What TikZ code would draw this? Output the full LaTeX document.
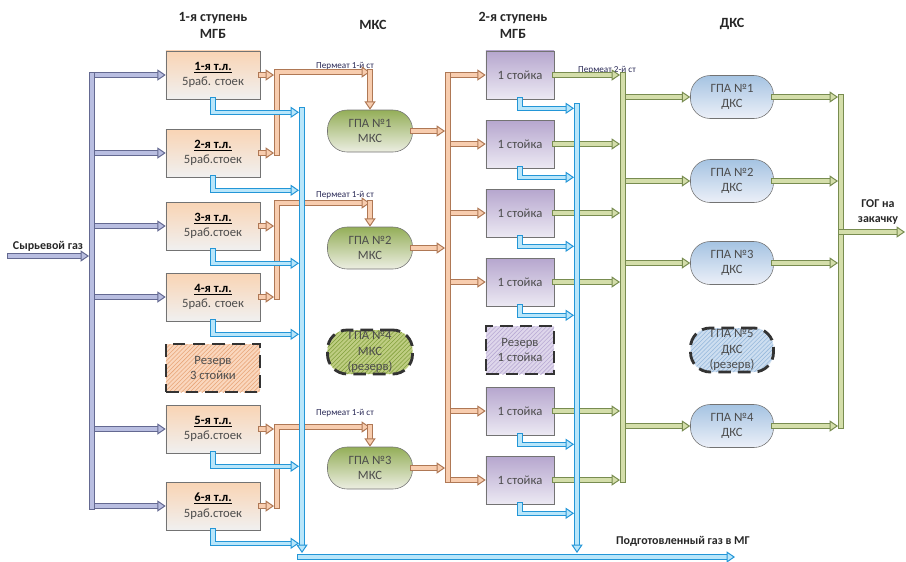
\documentclass[tikz,border=0pt]{standalone}
\usepackage{fontspec}
\setmainfont{Carlito}
\usepackage{xcolor}
\usepackage{tikz}
\usetikzlibrary{arrows.meta, calc, patterns}
\definecolor{rawout}{RGB}{100,105,145}
\definecolor{rawin}{RGB}{185,190,225}
\definecolor{prmout}{RGB}{175,120,85}
\definecolor{prmin}{RGB}{248,205,175}
\definecolor{retout}{RGB}{35,150,215}
\definecolor{retin}{RGB}{185,230,250}
\definecolor{grnout}{RGB}{120,140,80}
\definecolor{grnin}{RGB}{212,222,170}
\definecolor{lbltxt}{RGB}{40,40,85}
\tikzstyle{pipe} = [line width=0.7pt, double distance=2.4pt, line join=miter, line cap=rect]
\tikzstyle{raw} = [pipe, draw=rawout, double=rawin]
\tikzstyle{prm} = [pipe, draw=prmout, double=prmin]
\tikzstyle{ret} = [pipe, draw=retout, double=retin]
\tikzstyle{grn} = [pipe, draw=grnout, double=grnin]
\tikzstyle{rawa} = [raw, -{Triangle[length=6pt,width=8pt,fill=rawin]}]
\tikzstyle{prma} = [prm, -{Triangle[length=6pt,width=8pt,fill=prmin]}]
\tikzstyle{reta} = [ret, -{Triangle[length=6pt,width=8pt,fill=retin]}]
\tikzstyle{grna} = [grn, -{Triangle[length=6pt,width=8pt,fill=grnin]}]
\tikzstyle{head} = [font=\fontsize{10}{12}\selectfont\bfseries, align=center, text=black!85]
\tikzstyle{lbl} = [font=\fontsize{6.5}{7}\selectfont, text=lbltxt, inner sep=1pt]
\tikzstyle{blbl} = [font=\fontsize{8.5}{10}\selectfont\bfseries, align=center, text=black!85, inner sep=1pt]
\tikzstyle{unit} = [rectangle, align=center, draw=black!55, font=\fontsize{9}{11}\selectfont, text=black!70]
\tikzstyle{tl} = [unit, minimum width=2.35cm, minimum height=1.2cm, top color={rgb,255:red,249;green,212;blue,180}, bottom color={rgb,255:red,240;green,240;blue,240}]
\tikzstyle{st} = [unit, minimum width=1.7cm, minimum height=1.2cm, top color={rgb,255:red,182;green,166;blue,206}, bottom color={rgb,255:red,236;green,233;blue,243}]
\tikzstyle{mks} = [unit, rounded corners=14pt, minimum width=2.125cm, minimum height=1.05cm, top color={rgb,255:red,148;green,174;blue,88}, bottom color={rgb,255:red,236;green,238;blue,226}]
\tikzstyle{dks} = [unit, rounded corners=14pt, minimum width=2.075cm, minimum height=1.075cm, top color={rgb,255:red,165;green,195;blue,226}, bottom color={rgb,255:red,236;green,240;blue,248}]
\tikzstyle{rsv} = [draw=black!80, line width=2pt, dash pattern=on 9pt off 5pt, pattern=north east lines]

\begin{document}
\begin{tikzpicture}[x=0.025cm, y=-0.025cm]
   \useasboundingbox (0,0) rectangle (906,561);
   \node (h1) [head] at (213,25) {1-я ступень\\МГБ};
   \node (h2) [head] at (373,25) {МКС};
   \node (h3) [head] at (513,25) {2-я ступень\\МГБ};
   \node (h4) [head] at (732,24) {ДКС};

   \node (t1) [tl] at (213,75) {{\color{black}\underline{\textbf{1-я т.л.}}}\\5раб. стоек};
   \node (t2) [tl] at (213,153) {{\color{black}\underline{\textbf{2-я т.л.}}}\\5раб.стоек};
   \node (t3) [tl] at (213,226) {{\color{black}\underline{\textbf{3-я т.л.}}}\\5раб.стоек};
   \node (t4) [tl] at (213,297) {{\color{black}\underline{\textbf{4-я т.л.}}}\\5раб. стоек};
   \node (rt) [unit, rsv, minimum width=2.35cm, minimum height=1.2cm, pattern color={rgb,255:red,232;green,165;blue,120}, preaction={fill={rgb,255:red,250;green,215;blue,190}}] at (213,368) {Резерв\\3 стойки};
   \node (t5) [tl] at (213,429) {{\color{black}\underline{\textbf{5-я т.л.}}}\\5раб.стоек};
   \node (t6) [tl] at (213,506) {{\color{black}\underline{\textbf{6-я т.л.}}}\\5раб.стоек};

   \node (m1) [mks] at (370,131) {ГПА №1\\МКС};
   \node (m2) [mks] at (370,248) {ГПА №2\\МКС};
   \node (rm) [unit, rsv, rounded corners=14pt, minimum width=2.125cm, minimum height=1.05cm, inner sep=1pt, pattern color={rgb,255:red,130;green,160;blue,60}, preaction={fill={rgb,255:red,190;green,205;blue,130}}] at (370,352) {ГПА №4\\МКС\\(резерв)};
   \node (m3) [mks] at (370,468) {ГПА №3\\МКС};

   \node (s1) [st] at (520,75) {1 стойка};
   \node (s2) [st] at (520,144) {1 стойка};
   \node (s3) [st] at (520,213) {1 стойка};
   \node (s4) [st] at (520,282) {1 стойка};
   \node (rs) [unit, rsv, minimum width=1.7cm, minimum height=1.2cm, pattern color={rgb,255:red,185;green,170;blue,212}, preaction={fill={rgb,255:red,222;green,214;blue,235}}] at (520,350) {Резерв\\1 стойка};
   \node (s5) [st] at (520,411) {1 стойка};
   \node (s6) [st] at (520,480) {1 стойка};

   \node (d1) [dks] at (732,97) {ГПА №1\\ДКС};
   \node (d2) [dks] at (732,181) {ГПА №2\\ДКС};
   \node (d3) [dks] at (732,263) {ГПА №3\\ДКС};
   \node (rd) [unit, rsv, rounded corners=14pt, minimum width=2.075cm, minimum height=1.075cm, inner sep=1pt, pattern color={rgb,255:red,150;green,185;blue,220}, preaction={fill={rgb,255:red,205;green,222;blue,240}}] at (732,350) {ГПА №5\\ДКС\\(резерв)};
   \node (d4) [dks] at (732,426) {ГПА №4\\ДКС};

   \node (src-l) [blbl] at (48,246) {Сырьевой газ};
   \node (p1) [lbl] at (345,66) {Пермеат 1-й ст};
   \node (p2) [lbl] at (345,195) {Пермеат 1-й ст};
   \node (p3) [lbl] at (345,413) {Пермеат 1-й ст};
   \node (p4) [lbl] at (607,70) {Пермеат 2-й ст};
   \node (gog-l) [blbl] at (878,212) {ГОГ на\\закачку};
   \node (mg-l) [blbl] at (683,541) {Подготовленный газ в МГ};

   \coordinate (src) at (10,256);
   \coordinate (rawtop) at (92,75);
   \coordinate (rawbot) at (92,507);
   \coordinate (c1) at (277,72);
   \coordinate (c2) at (277,203);
   \coordinate (c3) at (277,427);
   \coordinate (omt) at (448,75);
   \coordinate (omb) at (448,480);
   \coordinate (gbt) at (623,75);
   \coordinate (gbb) at (623,480);
   \coordinate (grt) at (841,97);
   \coordinate (grb) at (841,426);
   \coordinate (gog) at (905,232);
   \coordinate (rb1) at (302,110);
   \coordinate (rb2) at (577,106);
   \coordinate (mg0) at (300,557);
   \coordinate (mg) at (735,557);

   \draw [rawa] (src) -- ($(src -| rawtop)+(-3,0)$);
   \foreach \n in {t1,t2,t3,t4,t5,t6}
      \draw [rawa] (\n.west -| rawtop) -- (\n.west);
   \draw [raw] (rawtop) -- (rawbot);

   \foreach \n in {t1,t2,t3,t4,t5,t6}
      \draw [prma] (\n.east) -- ($(\n.east -| c1)+(-3,0)$);
   \draw [prma] (t2.east -| c1) -- (c1) -- (m1.north |- c1);
   \draw [prma] (m1.north |- c1) -- (m1.north);
   \draw [prma] (t4.east -| c2) -- (c2) -- (m2.north |- c2);
   \draw [prma] (m2.north |- c2) -- (m2.north);
   \draw [prma] (t6.east -| c3) -- (c3) -- (m3.north |- c3);
   \draw [prma] (m3.north |- c3) -- (m3.north);

   \foreach \n in {m1,m2,m3}
      \draw [prma] (\n.east) -- ($(\n.east -| omt)+(-3,0)$);
   \foreach \n in {s1,s2,s3,s4,s5,s6}
      \draw [prma] (\n.west -| omt) -- (\n.west);
   \draw [prm] (omt) -- (omb);

   \foreach \n in {s1,s2,s3,s4,s5,s6}
      \draw [grna] (\n.east) -- ($(\n.east -| gbt)+(-3,0)$);
   \foreach \n in {d1,d2,d3,d4}
      \draw [grna] (\n.west -| gbt) -- (\n.west);
   \draw [grn] (gbt) -- (gbb);
   \foreach \n in {d1,d2,d3,d4}
      \draw [grna] (\n.east) -- ($(\n.east -| grt)+(-3,0)$);
   \draw [grn] (grt) -- (grb);
   \draw [grna] (gog -| grt) -- (gog);

   \foreach \n in {t1,t2,t3,t4,t5,t6}
      \draw [reta] (\n.south) |- ($(\n.south -| rb1)+(-3,13)$);
   \foreach \n in {s1,s2,s3,s4,s5,s6}
      \draw [reta] (\n.south) |- ($(\n.south -| rb2)+(-3,9)$);
   \draw [reta] (mg0) -- (mg);
   \draw [reta] (rb1) -- ($(rb1 |- mg0)+(0,-4)$);
   \draw [reta] (rb2) -- ($(rb2 |- mg0)+(0,-4)$);
\end{tikzpicture}
\end{document}
